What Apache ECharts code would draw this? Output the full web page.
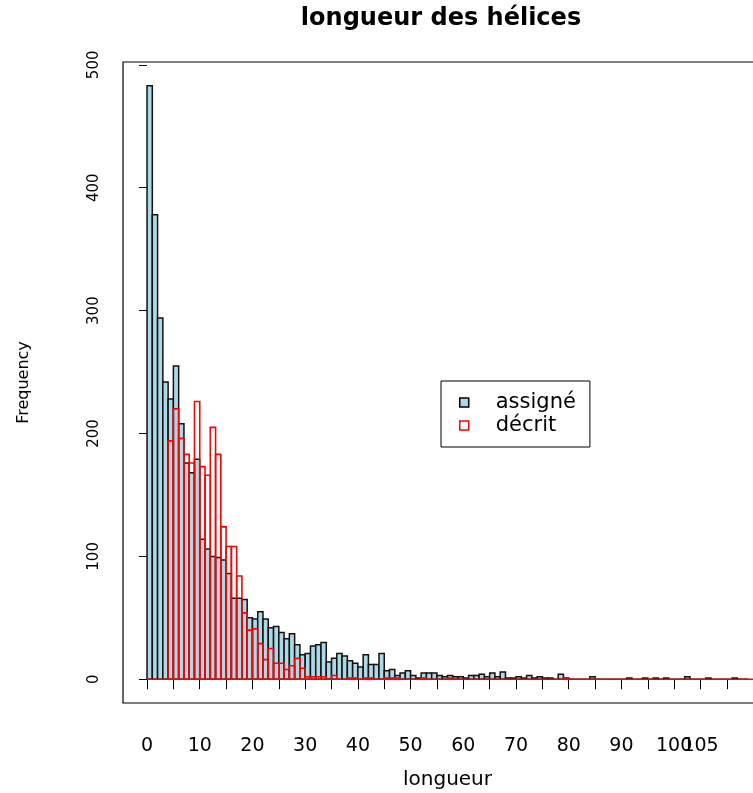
<!DOCTYPE html>
<html><head><meta charset="utf-8">
<script src="https://cdn.jsdelivr.net/npm/echarts@6/dist/echarts.min.js"></script>
<style>html,body{margin:0;padding:0;background:#fff}#c{width:753px;height:793px}</style>
</head><body><div id="c"></div>
<script>
// ---- data ----
const binStart = 0;     // left edge of the first bin
const binWidth = 1;     // width of each bin, in axis units
const assigneCounts = [
  483,378,294,242,228,255,208,176,168,179,
  114,106,100,99,97,86,66,66,65,50,
  49,55,49,42,43,38,33,37,28,20,
  21,27,28,30,14,17,21,19,15,13,
  10,20,12,12,21,7,8,3,5,7,
  3,1,5,5,5,3,2,3,2,2,
  1,3,3,4,2,5,2,6,1,1,
  2,1,3,1,2,1,1,0,4,1,
  0,0,0,0,2,0,0,0,0,0,
  0,1,0,0,1,0,1,0,1,0,
  0,0,2,0,0,0,1,0,0,0,
  0,1,0,0
];
const decritCounts = [
  0,0,0,0,194,220,196,183,176,226,
  173,166,205,183,124,108,108,84,54,40,
  41,29,16,25,13,13,8,11,17,9,
  2,2,2,2,0,3,0,0,1,1,
  0,1,1,0,0,1,1,1,0,0,
  0,0,1,0,0,0,0,1,0,0,
  0,0,0,0,0,0,0,0,0,0,
  0,0,0,0,0,0,0,0,0,1,
  0,0,0,0,0,0,0,0,0,0,
  0,0,0,0,0,0,0,0,0,0,
  0,0,0,0,0,0,0,0,0,0,
  0,0,0,0,0,0
];
const xTicks = [0,5,10,15,20,25,30,35,40,45,50,55,60,65,70,75,80,85,90,95,100,105,110];
const xTickLabels = [0,10,20,30,40,50,60,70,80,90,100];
const xExtraLabels = [105];
const yTicks = [0,100,200,300,400,500];
const seriesNames = ['assigné','décrit'];

// ---- chart ----
const FONT = 'DejaVu Sans';
const nBins = assigneCounts.length;
const xLo = binStart, xHi = binStart + nBins * binWidth;
const xMin = xLo - 0.04 * (xHi - xLo), xMax = xHi + 0.04 * (xHi - xLo);
const yTop = Math.max(...assigneCounts);
const yMin = -0.04 * yTop, yMax = 1.04 * yTop;

function toData(arr){ return arr.map((v,i)=>[binStart + i*binWidth, v]); }
function makeRender(fill, stroke, lw){
  return function(params, api){
    const x = api.value(0), v = api.value(1);
    const p0 = api.coord([x, 0]);
    const p1 = api.coord([x + binWidth, v]);
    return {type:'rect',
      shape:{x:p0[0], y:p1[1], width:p1[0]-p0[0], height:p0[1]-p1[1]},
      style:{fill:fill, stroke:stroke, lineWidth:lw}};
  };
}
const tickLabelStyle = {margin:34, hideOverlap:false, fontFamily:FONT, fontSize:19, color:'#000', formatter:v=>String(v)};

const chart = echarts.init(document.getElementById('c'), null, {renderer:'canvas'});
chart.setOption({
  animation:false,
  backgroundColor:'#fff',
  title:{text:'longueur des hélices', left:441, top:7, textAlign:'center', padding:0,
    textStyle:{fontFamily:FONT, fontWeight:'bold', fontSize:24, color:'#000'}},
  legend:{orient:'vertical', left:441, top:381, padding:[11,14,11,18], itemGap:2,
    borderColor:'#000', borderWidth:1, itemWidth:9, itemHeight:9,
    textStyle:{fontFamily:FONT, fontSize:21, color:'#000', padding:[0,0,0,22]},
    data:[
      {name:seriesNames[0], icon:'rect', itemStyle:{color:'#add8e6', borderColor:'#000', borderWidth:1.5}},
      {name:seriesNames[1], icon:'rect', itemStyle:{color:'#fff', borderColor:'#ff0000', borderWidth:1.5}}
    ]},
  grid:{left:123, top:62, width:649, height:641, outerBoundsMode:'none', containLabel:false,
    show:true, borderColor:'#000', borderWidth:1.2, backgroundColor:'transparent'},
  xAxis:[
    {type:'value', min:xMin, max:xMax, position:'bottom',
     name:'longueur', nameLocation:'middle', nameGap:67,
     nameTextStyle:{fontFamily:FONT, fontSize:20, color:'#000'},
     axisLine:{show:false}, splitLine:{show:false},
     axisTick:{show:true, inside:false, length:10, customValues:xTicks, lineStyle:{color:'#000', width:1}},
     axisLabel:Object.assign({customValues:xTickLabels}, tickLabelStyle)},
    {type:'value', min:xMin, max:xMax, position:'bottom', offset:0,
     axisLine:{show:false}, splitLine:{show:false}, axisTick:{show:false},
     axisLabel:Object.assign({customValues:xExtraLabels}, tickLabelStyle)}
  ],
  yAxis:{type:'value', min:yMin, max:yMax,
    name:'Frequency', nameLocation:'middle', nameGap:91,
    nameTextStyle:{fontFamily:FONT, fontSize:16, color:'#000'},
    axisLine:{show:false}, splitLine:{show:false},
    axisTick:{show:true, inside:false, length:8, customValues:yTicks, lineStyle:{color:'#000', width:1}},
    axisLabel:{customValues:yTicks, rotate:90, margin:21, fontFamily:FONT, fontSize:15, color:'#000'}},
  series:[
    {name:seriesNames[0], type:'custom', xAxisIndex:0, data:toData(assigneCounts), encode:{x:0, y:1},
     itemStyle:{color:'#add8e6', borderColor:'#000'},
     renderItem:makeRender('#add8e6', '#111', 1.5), z:2},
    {name:seriesNames[1], type:'custom', xAxisIndex:0, data:toData(decritCounts), encode:{x:0, y:1},
     itemStyle:{color:'#fff', borderColor:'#ff0000'},
     renderItem:makeRender('transparent', '#ff0000', 1.6), z:3}
  ]
});
</script></body></html>
